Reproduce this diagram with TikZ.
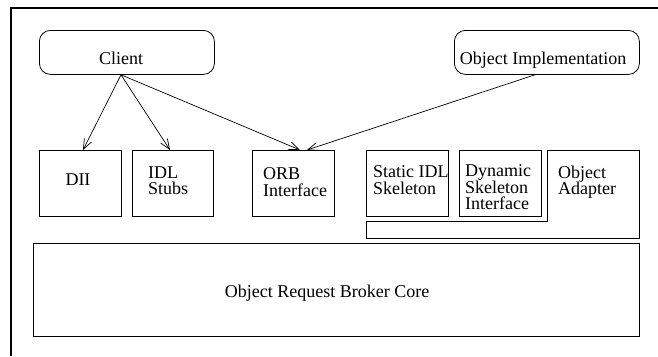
\documentclass[tikz,border=0pt]{standalone}
\usepackage{fontspec}
\setmainfont{Liberation Serif}
\usetikzlibrary{arrows.meta,calc}

\tikzset{
  lbl/.style={inner sep=0pt, font=\fontsize{18}{16.5}\selectfont},
  txt/.style={lbl, align=left, anchor=north west},
  stepbox/.style={draw, line width=0.8pt, inner sep=0pt, anchor=north west},
  actor/.style={draw, line width=0.8pt, rounded corners=11pt, inner sep=0pt, anchor=north west},
  call/.style={line width=0.7pt, -{Straight Barb[length=10pt,width=8pt,line width=0.7pt]}},
}

\begin{document}
\begin{tikzpicture}[x=1pt,y=-1pt]
  \useasboundingbox (0,0) rectangle (658,356);

  % frame (open on the right and bottom)
  \draw[line width=2.4pt] (11,356) -- (11,8) -- (658,8);

  % clients and implementations
  \node[actor, minimum width=175pt, minimum height=44pt] (client) at (39,30) {};
  \node[lbl, anchor=base] (clientT) at (121,64) {Client};
  \node[actor, minimum width=185pt, minimum height=44pt] (impl) at (454,30) {};
  \node[lbl, anchor=base] (implT) at (543,64) {Object Implementation};

  % interface boxes
  \node[stepbox, minimum width=82pt, minimum height=66pt] (dii) at (39,150) {};
  \node[lbl, anchor=base] (diiT) at (78,185) {DII};
  \node[stepbox, minimum width=81pt, minimum height=66pt] (stubs) at (132,150) {};
  \node[txt] (stubsT) at (148,166.5) {IDL\\Stubs};
  \node[stepbox, minimum width=82pt, minimum height=66pt] (orbi) at (252,150) {};
  \node[txt] (orbiT) at (263,167.5) {ORB\\Interface};
  \node[stepbox, minimum width=82pt, minimum height=66pt] (sskel) at (366,150) {};
  \node[txt] (sskelT) at (373,165.5) {Static IDL\\Skeleton};
  \node[stepbox, minimum width=82pt, minimum height=66pt] (dskel) at (459,150) {};
  \node[txt] (dskelT) at (465,164.5) {Dynamic\\Skeleton\\Interface};

  % object adapter wraps under both skeletons
  \draw[line width=0.8pt] (547,150) -- (639,150) -- (639,238) -- (366,238)
        -- (366,221) -- (547,221) -- cycle;
  \node[txt] (oaT) at (558,165.5) {Object\\Adapter};

  % ORB core
  \node[stepbox, minimum width=606pt, minimum height=93pt] (core) at (33,243) {};
  \node[lbl, anchor=center] (coreT) at (327,293) {Object Request Broker Core};

  % connectors
  \coordinate (cout) at ($(client.south west)+(82,0)$);
  \coordinate (iout) at ($(impl.south west)+(81,0)$);
  \draw[call] (cout) -- ($(dii.north west)+(44,0)$);
  \draw[call] (cout) -- ($(stubs.north west)+(38,0)$);
  \draw[call] (cout) -- ($(orbi.north west)+(48,0)$);
  \draw[call] (iout) -- ($(orbi.north west)+(55,0)$);
\end{tikzpicture}
\end{document}
